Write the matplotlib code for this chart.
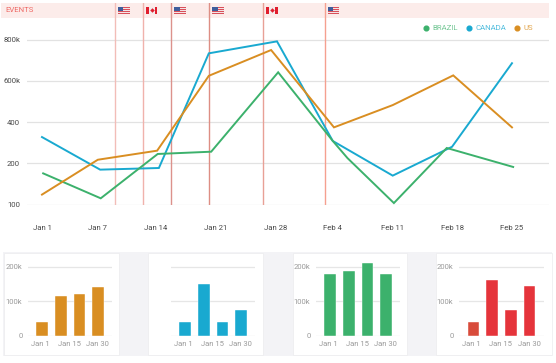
import matplotlib
matplotlib.use("Agg")
import matplotlib.pyplot as plt
from matplotlib.lines import Line2D
from matplotlib.patches import Rectangle

plt.rcParams['font.family'] = ['Roboto', 'DejaVu Sans']

W, H = 556, 363

week_labels = ["Jan 1", "Jan 7", "Jan 14", "Jan 21", "Jan 28", "Feb 4", "Feb 11", "Feb 18", "Feb 25"]
week_ticks = [0, 0.953, 1.94, 2.96, 3.98, 4.95, 5.96, 6.98, 8.0]
y_ticks = [0, 200, 400, 600, 800]
y_labels = ["100", "200", "400", "600k", "800k"]

canada_x = [0, 0.99, 1.99, 2.84, 4.0, 4.95, 5.97, 6.98, 8.0]
canada_y = [327, 169, 177, 733, 791, 308, 140, 280, 685]
us_x = [0, 0.95, 1.96, 2.84, 3.9, 4.97, 5.97, 7.0, 8.0]
us_y = [48, 217, 261, 624, 749, 374, 482, 626, 374]
brazil_x = [0.02, 1.0, 1.97, 2.88, 4.02, 4.95, 5.2, 5.99, 6.89, 8.02]
brazil_y = [151, 30, 245, 256, 641, 308, 225, 7, 274, 182]

event_weeks = [1.243, 1.719, 2.204, 2.851, 3.77, 4.81]
event_flags = ["US", "CA", "US", "US", "CA", "US"]
event_colors = ["#F2BDB8", "#F0B2AC", "#DC928C", "#DD8E84", "#E8A096", "#F5A090"]

bar_labels = ["Jan 1", "Jan 15", "Jan 30"]
bar_pos = [0, 1, 2, 3]
bar_tick_pos = [-0.1, 1.45, 3.0]
bars_us = [38, 116, 121, 140]
bars_canada = [38, 150, 38, 75]
bars_brazil = [179, 189, 211, 179]
bars_red = [38, 162, 75, 144]

ORANGE, BLUE, GREEN, RED = "#D98E22", "#19A9D0", "#3CB16C", "#E5343B"


def px_axes(x0, y0, x1, y1, **kw):
    return fig.add_axes([x0 / W, 1 - y1 / H, (x1 - x0) / W, (y1 - y0) / H], **kw)


fig = plt.figure(figsize=(W / 100, H / 100), dpi=100, facecolor="white")

bg = px_axes(0, 0, W, H, zorder=0)
bg.set_xlim(0, W)
bg.set_ylim(H, 0)
bg.axis("off")
bg.add_patch(Rectangle((1, 3), 548, 14.5, fc="#FCECEA", ec="none"))
bg.text(5, 10.5, "EVENTS", color="#EE6A66", fontsize=5.6, va="center", ha="left")
bg.add_patch(Rectangle((3, 252), 549, 103.5, fc="#F3F3F6", ec="none"))
for x0, x1 in [(3.5, 119), (148, 263), (293, 407), (436, 552)]:
    bg.add_patch(Rectangle((x0, 252.5), x1 - x0, 102.5, fc="white", ec="#ECECEE", lw=0.5))

ax = px_axes(27, 3, 549, 204.5, zorder=1)
ax.patch.set_alpha(0)
ax.set_xlim(-0.255, 8.63)
ax.set_ylim(0, 977)
for s in ax.spines.values():
    s.set_visible(False)
ax.set_yticks(y_ticks, y_labels)
ax.set_xticks(week_ticks, week_labels)
ax.tick_params(length=0, labelsize=5.6, labelcolor="#4A4A4A")
ax.tick_params(axis="x", pad=14.5)
ax.tick_params(axis="y", pad=5)
ax.yaxis.grid(True, color="#E2E2E2", lw=0.9)
ax.set_axisbelow(True)
for wk, c in zip(event_weeks, event_colors):
    ax.axvline(wk, color=c, lw=1.0, zorder=1.5)
ax.plot(canada_x, canada_y, color=BLUE, lw=1.4, zorder=3, solid_joinstyle="miter")
ax.plot(brazil_x, brazil_y, color=GREEN, lw=1.4, zorder=3, solid_joinstyle="miter")
ax.plot(us_x, us_y, color=ORANGE, lw=1.4, zorder=3, solid_joinstyle="miter")
handles = [Line2D([], [], ls="", marker="o", ms=3.4, color=c) for c in (GREEN, BLUE, ORANGE)]
ax.legend(handles, ["BRAZIL", "CANADA", "US"], ncols=3, frameon=False, fontsize=5.6,
          labelcolor=["#74C795", "#4DBCDD", "#E2A64E"], loc="center right",
          bbox_to_anchor=(0.97, 0.875), handlelength=0.7, handletextpad=0.45,
          columnspacing=1.1, borderpad=0, borderaxespad=0)


def flag(kind, x, y=6.5, w=11.5, h=7.5):
    if kind == "US":
        n = 7
        for i in range(n):
            bg_fl.add_patch(Rectangle((x, y + i * h / n), w, h / n,
                                      fc="#D9505A" if i % 2 == 0 else "#F3E4E6", ec="none"))
        bg_fl.add_patch(Rectangle((x, y), w * 0.45, h * 0.55, fc="#3F5E9C", ec="none"))
    else:
        bg_fl.add_patch(Rectangle((x, y), w, h, fc="#F4ECEC", ec="none"))
        bg_fl.add_patch(Rectangle((x, y), w * 0.25, h, fc="#E01E2E", ec="none"))
        bg_fl.add_patch(Rectangle((x + w * 0.75, y), w * 0.25, h, fc="#E01E2E", ec="none"))
        bg_fl.plot([x + w / 2], [y + h / 2], marker="D", ms=2.3, color="#E01E2E", mew=0)


bg_fl = px_axes(0, 0, W, H, zorder=2)
bg_fl.set_xlim(0, W)
bg_fl.set_ylim(H, 0)
bg_fl.axis("off")
for wk, kind in zip(event_weeks, event_flags):
    px = ax.transData.transform((wk, 0))[0]
    flag(kind, px + 3)


def small(x0, x1, values, color, show_y=True, first_color=None):
    a = px_axes(x0, 258, x1, 335.5, zorder=1)
    a.patch.set_alpha(0)
    bar_w = 11.6
    span = x1 - x0
    unit = 18.6
    a.set_xlim(-(span - 3 * unit) / 2 / unit, 3 + (span - 3 * unit) / 2 / unit)
    a.set_ylim(0, 226)
    for s in a.spines.values():
        s.set_visible(False)
    a.set_yticks([0, 100, 200], ["0", "100k", "200k"] if show_y else ["", "", ""])
    a.set_xticks(bar_tick_pos, bar_labels)
    a.tick_params(length=0, labelsize=5.5, labelcolor="#9A9A9A")
    a.tick_params(axis="x", pad=4)
    a.tick_params(axis="y", pad=4)
    a.yaxis.grid(True, color="#E6E6E6", lw=0.9)
    a.set_axisbelow(True)
    cols = [first_color or color] + [color] * 3
    a.bar(bar_pos, values, width=bar_w / unit, color=cols, edgecolor="white", linewidth=0.3)


small(28, 112, bars_us, ORANGE)
small(171, 255, bars_canada, BLUE, show_y=False)
small(316, 400, bars_brazil, GREEN)
small(459, 544, bars_red, RED, first_color="#D84B3B")

fig.savefig("out.png", dpi=100)
